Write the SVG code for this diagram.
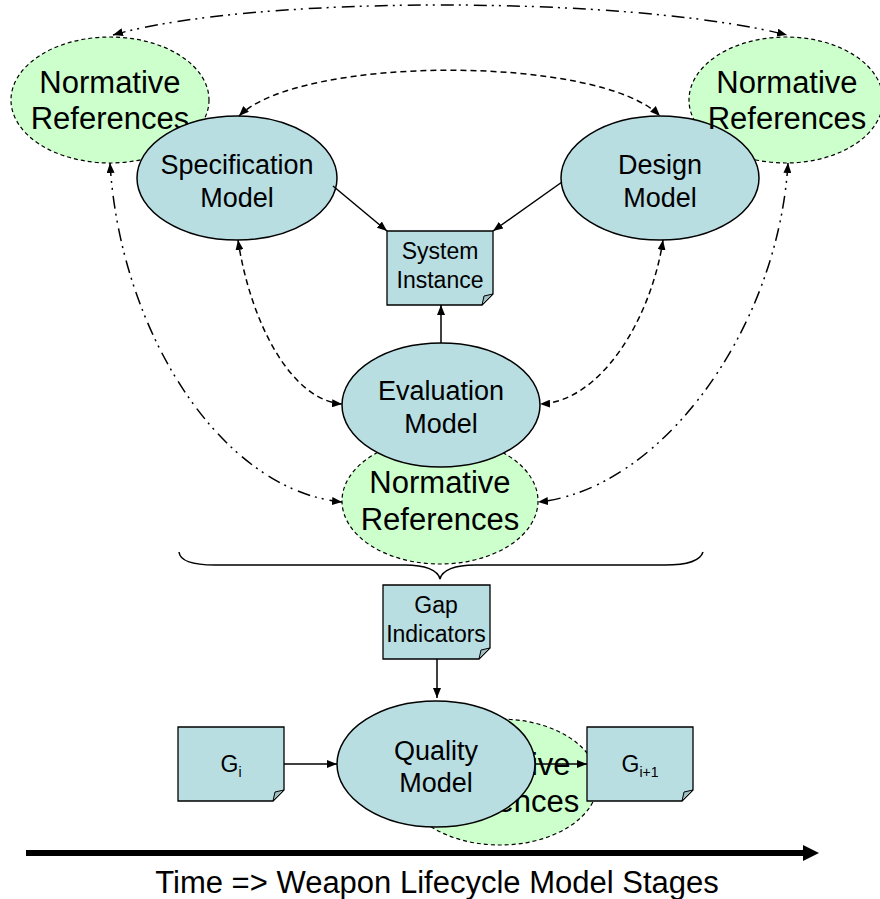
<svg xmlns="http://www.w3.org/2000/svg" width="880" height="899" viewBox="0 0 880 899">
  <style>
    text { font-family: "Liberation Sans", Arial, sans-serif; fill: #000; text-anchor: middle; }
    tspan { fill: #000; }
    .model { fill: #B8DEE2; stroke: #000; stroke-width: 1.5; }
    .norm { fill: #CCFFCC; stroke: #000; stroke-width: 1.2; stroke-dasharray: 4 3; }
    .doc { fill: #B8DEE2; stroke: #000; stroke-width: 1.3; }
    .fold { fill: #9DBDC1; stroke: #000; stroke-width: 1; }
    .t-norm { font-size: 31px; }
    .t-model { font-size: 27px; }
    .t-doc { font-size: 23px; }
    .solid { fill: none; stroke: #000; stroke-width: 1.5; }
    .dash { fill: none; stroke: #000; stroke-width: 1.5; stroke-dasharray: 6 4; }
    .dashdot { fill: none; stroke: #000; stroke-width: 1.5; stroke-dasharray: 13 5 2 5 2 6; }
  </style>
  <defs>
    <marker id="arrow" viewBox="0 0 10 8" refX="10" refY="4" markerWidth="10" markerHeight="8" markerUnits="userSpaceOnUse" orient="auto-start-reverse">
      <path d="M0,0 L10,4 L0,8 z" fill="#000"/>
    </marker>
  </defs>

  <!-- Normative reference ellipses (top) -->
  <g id="norm-top-left">
    <ellipse class="norm" cx="110" cy="100" rx="99" ry="63"/>
    <text class="t-norm" x="110" y="93">Normative</text>
    <text class="t-norm" x="110" y="129">References</text>
  </g>
  <g id="norm-top-right">
    <ellipse class="norm" cx="786" cy="100" rx="97" ry="63"/>
  </g>

  <!-- Specification model -->
  <g id="spec-model">
    <ellipse class="model" cx="237" cy="178" rx="100" ry="62"/>
    <text class="t-model" x="237" y="174">Specification</text>
    <text class="t-model" x="237" y="207">Model</text>
  </g>

  <!-- Design model -->
  <g id="design-model">
    <ellipse class="model" cx="660" cy="178" rx="99" ry="62"/>
    <text class="t-model" x="660" y="174">Design</text>
    <text class="t-model" x="660" y="207">Model</text>
  </g>

  <g id="norm-top-right-label">
    <text class="t-norm" x="787" y="93">Normative</text>
    <text class="t-norm" x="787" y="129">References</text>
  </g>

  <!-- System instance document -->
  <g id="system-instance">
    <path class="doc" d="M387,231 H493 V294 L482,305 H387 Z"/>
    <path class="fold" d="M482,305 L484,296 L493,294 Z"/>
    <text class="t-doc" x="440" y="259">System</text>
    <text class="t-doc" x="440" y="288">Instance</text>
  </g>

  <!-- Normative references under evaluation model -->
  <g id="norm-middle">
    <ellipse class="norm" cx="440" cy="501" rx="98" ry="63"/>
    <text class="t-norm" x="440" y="493">Normative</text>
    <text class="t-norm" x="440" y="530">References</text>
  </g>

  <!-- Evaluation model -->
  <g id="evaluation-model">
    <ellipse class="model" cx="441" cy="405" rx="99" ry="62"/>
    <text class="t-model" x="441" y="400">Evaluation</text>
    <text class="t-model" x="441" y="433">Model</text>
  </g>

  <!-- Gap indicators document -->
  <g id="gap-indicators">
    <path class="doc" d="M383,585 H490 V648 L479,659 H383 Z"/>
    <path class="fold" d="M479,659 L481,650 L490,648 Z"/>
    <text class="t-doc" x="436" y="613">Gap</text>
    <text class="t-doc" x="436" y="642">Indicators</text>
  </g>

  <!-- Normative references behind quality model -->
  <g id="norm-bottom">
    <ellipse class="norm" cx="500" cy="782" rx="98" ry="63"/>
    <text class="t-norm" x="500" y="775">Normative</text>
    <text class="t-norm" x="500" y="812">References</text>
  </g>

  <!-- Quality model -->
  <g id="quality-model">
    <ellipse class="model" cx="436" cy="764" rx="99" ry="63"/>
    <text class="t-model" x="436" y="760">Quality</text>
    <text class="t-model" x="436" y="792">Model</text>
  </g>

  <!-- Gap documents G_i and G_i+1 -->
  <g id="g-i">
    <path class="doc" d="M178,727 H284 V790 L273,801 H178 Z"/>
    <path class="fold" d="M273,801 L275,792 L284,790 Z"/>
    <text class="t-doc" x="231" y="772">G<tspan font-size="14" dy="5">i</tspan></text>
  </g>
  <g id="g-i-plus-1">
    <path class="doc" d="M587,727 H693 V790 L682,801 H587 Z"/>
    <path class="fold" d="M682,801 L684,792 L693,790 Z"/>
    <text class="t-doc" x="640" y="772">G<tspan font-size="14" dy="5">i+1</tspan></text>
  </g>

  <!-- Connectors -->
  <g id="connectors">
    <!-- between the upper normative references -->
    <path class="dashdot" d="M113,35 C250,-5 630,-5 787,35" marker-start="url(#arrow)" marker-end="url(#arrow)"/>
    <!-- specification <-> design -->
    <path class="dash" d="M239,116 C300,55 600,55 660,116" marker-start="url(#arrow)" marker-end="url(#arrow)"/>
    <!-- models feed the system instance -->
    <path class="solid" d="M333,186 L387,231" marker-end="url(#arrow)"/>
    <path class="solid" d="M562,182 L493,231" marker-end="url(#arrow)"/>
    <path class="solid" d="M441,343 L441,305" marker-end="url(#arrow)"/>
    <!-- models <-> evaluation -->
    <path class="dash" d="M238,240 C250,320 290,400 342,404" marker-start="url(#arrow)" marker-end="url(#arrow)"/>
    <path class="dash" d="M663,240 C651,320 600,402 540,404" marker-start="url(#arrow)" marker-end="url(#arrow)"/>
    <!-- upper normative references <-> middle normative references -->
    <path class="dashdot" d="M110,163 C120,330 220,490 342,502" marker-start="url(#arrow)" marker-end="url(#arrow)"/>
    <path class="dashdot" d="M788,163 C778,330 660,490 538,502" marker-start="url(#arrow)" marker-end="url(#arrow)"/>
    <!-- brace gathering the stage -->
    <path class="solid" d="M179,552 C180,562 195,565 215,565 L405,565 C425,565 438,570 440,579 C442,570 455,565 475,565 L665,565 C685,565 700,562 703,552"/>
    <!-- gap indicators -> quality -->
    <path class="solid" d="M437,659 L437,698" marker-end="url(#arrow)"/>
    <!-- G_i -> quality -> G_i+1 -->
    <path class="solid" d="M284,764 L337,764" marker-end="url(#arrow)"/>
    <path class="solid" d="M535,764 L587,764" marker-end="url(#arrow)"/>
  </g>

  <!-- Time axis -->
  <g id="time-axis">
    <line x1="26" y1="853" x2="805" y2="853" stroke="#000" stroke-width="6"/>
    <polygon points="803,845 819,853 803,861" fill="#000"/>
    <text x="437" y="893" font-size="31">Time =&gt; Weapon Lifecycle Model Stages</text>
  </g>
</svg>
